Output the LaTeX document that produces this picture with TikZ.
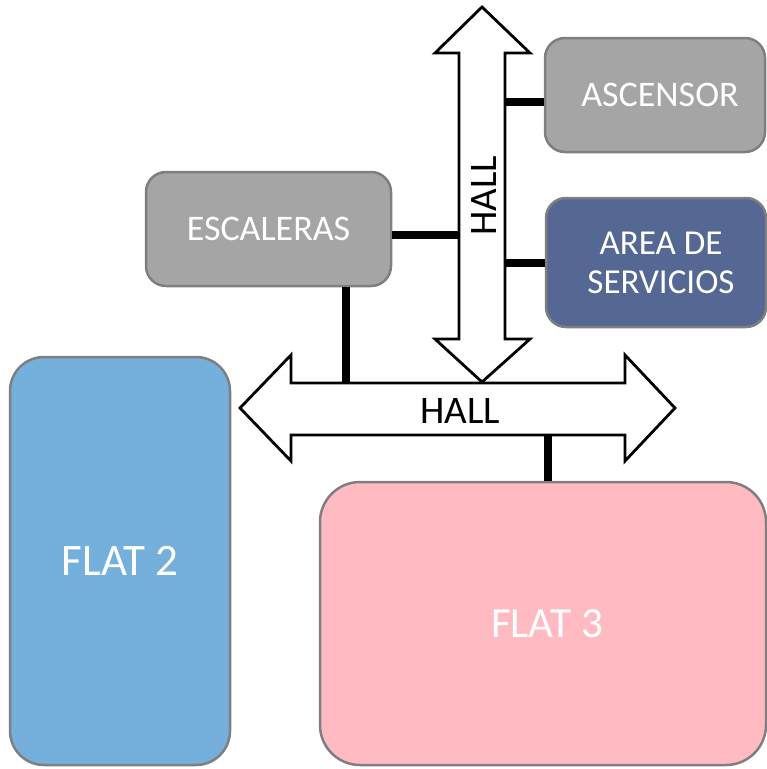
\documentclass[tikz,border=0pt]{standalone}
\usepackage{fontspec}
\setmainfont{Carlito}
\definecolor{boxgray}{HTML}{A5A5A5}
\definecolor{edgegray}{HTML}{7F7F7F}
\definecolor{serviceblue}{HTML}{556893}
\definecolor{flatblue}{HTML}{75AFDB}
\definecolor{flatpink}{HTML}{FFBBC1}
\tikzset{
  room/.style={draw=edgegray, line width=2.5pt, rounded corners=#1, inner sep=0pt,
               text=white, align=center},
  room/.default=20pt,
  hallarrow/.style={draw=black, fill=white, line width=2.8pt, line join=miter},
  conn/.style={draw=black, line width=8pt},
  halltext/.style={font=\fontsize{39}{44}\selectfont, text=black}
}
\begin{document}
\begin{tikzpicture}[x=1pt, y=-1pt]
\useasboundingbox (0,0) rectangle (767,769);

% rooms
\node[room, fill=boxgray, minimum width=220pt, minimum height=114pt,
      font=\fontsize{36}{42}\selectfont] (asc) at (655,95)
      {\raisebox{-2pt}{\hspace*{10pt}ASCENSOR}};
\node[room, fill=boxgray, minimum width=245pt, minimum height=114pt,
      font=\fontsize{36}{42}\selectfont] (esc) at (268.5,229)
      {\raisebox{-2pt}{ESCALERAS}};
\node[room, fill=serviceblue, minimum width=220pt, minimum height=129pt,
      font=\fontsize{35}{39}\selectfont] (serv) at (656,262.5)
      {\hspace*{10pt}\raisebox{-3pt}{AREA DE}\\\hspace*{10pt}\raisebox{-3pt}{SERVICIOS}};
\node[room=34pt, fill=flatblue, minimum width=220pt, minimum height=408pt,
      font=\fontsize{45}{50}\selectfont] (flat2) at (120,561)
      {\raisebox{-4pt}{FLAT 2}};
\node[room=40pt, fill=flatpink, minimum width=446pt, minimum height=283pt,
      font=\fontsize{43}{50}\selectfont] (flat3) at (543,623.5)
      {\hspace*{8pt}\raisebox{-4pt}{FLAT 3}};

% vertical hall arrow
\coordinate (vtop) at (482,7);
\coordinate (vbot) at (482,382);
\draw[hallarrow] (vtop) -- (530,53) -- (505,53) -- (505,339) -- (530,339)
  -- (vbot) -- (435,339) -- (459,339) -- (459,53) -- (435,53) -- cycle;
\coordinate (vL) at (459,200);
\coordinate (vR) at (505,200);
\node[halltext, rotate=90] (vhall) at (484,196) {HALL};

% horizontal hall arrow
\coordinate (hleft) at (240,408);
\coordinate (hright) at (675,408);
\draw[hallarrow] (hleft) -- (291,355) -- (291,383) -- (625,383) -- (625,355)
  -- (hright) -- (625,461) -- (625,435) -- (291,435) -- (291,461) -- cycle;
\coordinate (hT) at (400,383);
\coordinate (hB) at (400,435);
\node[halltext] (hhall) at (460,411) {HALL};

% links between rooms and halls
\draw[conn] ([yshift=-7pt]asc.west) -- ([yshift=-7pt]asc.west -| vR);
\draw[conn] (serv.west) -- (serv.west -| vR);
\draw[conn] ([yshift=-6pt]esc.east) -- ([yshift=-6pt]esc.east -| vL);
\draw[conn] ([xshift=77.5pt]esc.south) -- ([xshift=77.5pt]esc.south |- hT);
\draw[conn] ([xshift=5pt]flat3.north) -- ([xshift=5pt]flat3.north |- hB);
\end{tikzpicture}
\end{document}
